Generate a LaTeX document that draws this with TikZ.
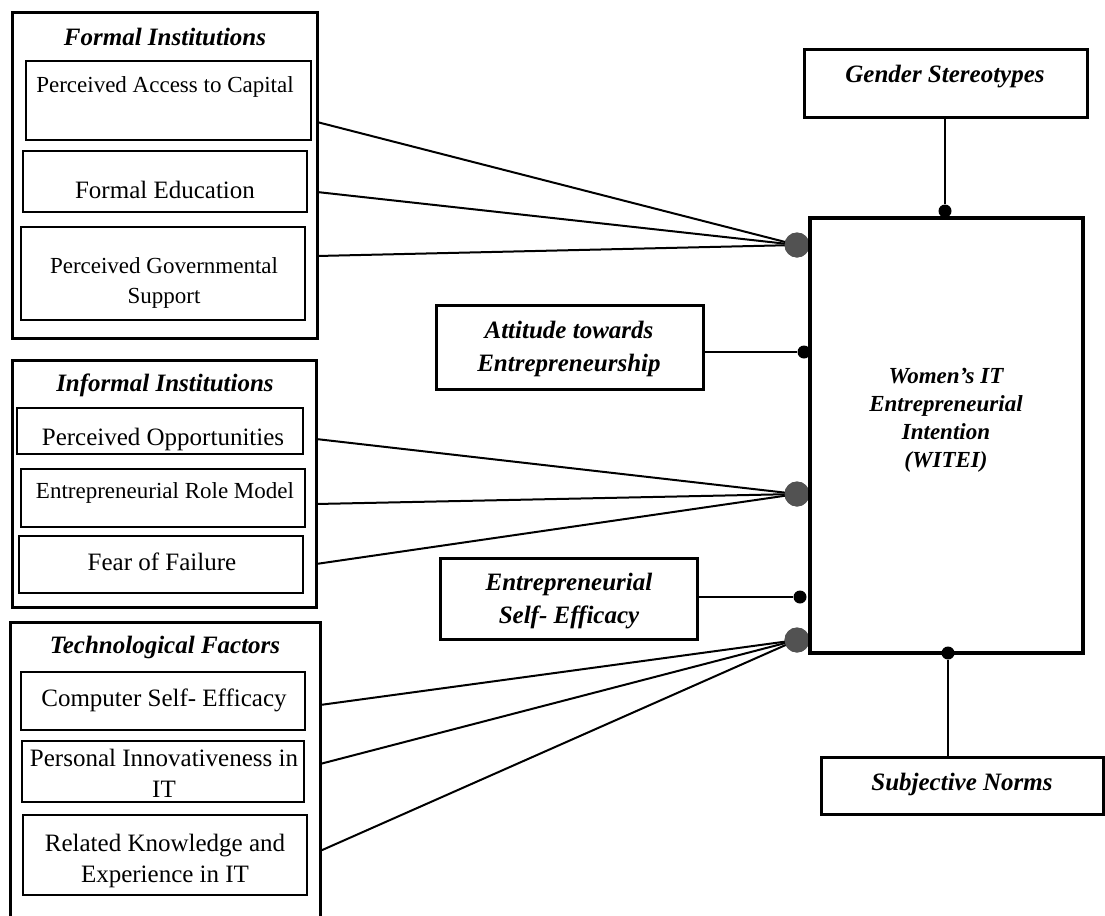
\documentclass[tikz,border=0pt]{standalone}
\usepackage{fontspec}
\setmainfont{Liberation Serif}
\begin{document}
\begin{tikzpicture}[x=0.5pt,y=-0.5pt,
  txt/.style={font=\fontsize{12.5}{15.5}\selectfont, align=center, inner sep=0pt},
  txts/.style={font=\fontsize{11.5}{15}\selectfont, align=center, inner sep=0pt},
  head/.style={font=\fontsize{12.5}{16.5}\selectfont\bfseries\itshape, align=center, inner sep=0pt},
  heads/.style={font=\fontsize{11.5}{14}\selectfont\bfseries\itshape, align=center, inner sep=0pt},
  groupbox/.style={draw, line width=1.5pt, inner sep=0pt},
  subbox/.style={draw, line width=1.2pt, inner sep=0pt},
  factorbox/.style={draw, line width=1.5pt, inner sep=0pt},
  mainbox/.style={draw, line width=2pt, inner sep=0pt},
  link/.style={line width=1pt},
  hub/.style={circle, fill=black!68, inner sep=0pt, minimum size=12.5pt},
  dot/.style={circle, fill=black, inner sep=0pt, minimum size=6.5pt}]
\useasboundingbox (0,0) rectangle (1105,916);

% ---- Formal institutions ----
\node[groupbox, minimum width=152.5pt, minimum height=163pt] (formal) at (164.5,175) {};
\node[head] (formalT) at (165,37) {Formal Institutions};
\node[subbox, minimum width=142.5pt, minimum height=39.5pt] (fa) at (168.5,100.5) {};
\node[txts] at (165,87) {Perceived Access to Capital};
\node[subbox, minimum width=142pt, minimum height=30.5pt] (fe) at (165,181.5) {};
\node[txt] at (165,190) {Formal Education};
\node[subbox, minimum width=142pt, minimum height=46.5pt] (fg) at (163,273.5) {};
\node[txts] at (164,283) {Perceived Governmental\\Support};

% ---- Informal institutions ----
\node[groupbox, minimum width=152pt, minimum height=123.5pt] (informal) at (164,483.5) {};
\node[head] (informalT) at (165,385) {Informal Institutions};
\node[subbox, minimum width=143pt, minimum height=23pt] (io) at (160,431) {};
\node[txt] at (163,439) {Perceived Opportunities};
\node[subbox, minimum width=142pt, minimum height=29pt] (ir) at (163,498) {};
\node[txts] at (165,493) {Entrepreneurial Role Model};
\node[subbox, minimum width=142pt, minimum height=28.5pt] (iff) at (161,564.5) {};
\node[txt] at (162,562) {Fear of Failure};

% ---- Technological factors ----
\node[groupbox, minimum width=155pt, minimum height=154pt] (tech) at (165,776) {};
\node[head] (techT) at (165,647) {Technological Factors};
\node[subbox, minimum width=142pt, minimum height=29pt] (tc) at (163,701) {};
\node[txt] at (164,700) {Computer Self- Efficacy};
\node[subbox, minimum width=141pt, minimum height=30.5pt] (tp) at (163,771.5) {};
\node[txt] at (164,773) {Personal Innovativeness in\\IT};
\node[subbox, minimum width=142pt, minimum height=40pt] (tr) at (165,855) {};
\node[txt] at (165,861) {Related Knowledge and\\Experience in IT};

% ---- Right-hand factors ----
\node[factorbox, minimum width=141.5pt, minimum height=34pt] (gs) at (945.5,83) {};
\node[head] at (945,77) {Gender Stereotypes};
\node[factorbox, minimum width=133.5pt, minimum height=42pt] (att) at (569.5,347) {};
\node[head] at (569,349) {Attitude towards\\Entrepreneurship};
\node[factorbox, minimum width=128.5pt, minimum height=40.5pt] (ese) at (568.5,598.5) {};
\node[head] at (569,601) {Entrepreneurial\\Self- Efficacy};
\node[factorbox, minimum width=141pt, minimum height=28.5pt] (sn) at (962,785.5) {};
\node[head] at (962,784) {Subjective Norms};

% ---- Hubs where the groups join the intention box ----
\coordinate (f1) at (317,122);
\coordinate (f2) at (317,192);
\coordinate (f3) at (317,256);
\coordinate (i1) at (316,439);
\coordinate (i2) at (316,504);
\coordinate (i3) at (316,564);
\coordinate (t1) at (320,705);
\coordinate (t2) at (320,764);
\coordinate (t3) at (320,851);
\node[hub] (m1) at (797,245) {};
\node[hub] (m2) at (797,494) {};
\node[hub] (m3) at (797,640) {};

\draw[link] (f1) -- (m1.center);
\draw[link] (f2) -- (m1.center);
\draw[link] (f3) -- (m1.center);
\draw[link] (i1) -- (m2.center);
\draw[link] (i2) -- (m2.center);
\draw[link] (i3) -- (m2.center);
\draw[link] (t1) -- (m3.center);
\draw[link] (t2) -- (m3.center);
\draw[link] (t3) -- (m3.center);
\node[hub] at (m1) {};
\node[hub] at (m2) {};
\node[hub] at (m3) {};

% ---- Intention box ----
\node[mainbox, minimum width=136.5pt, minimum height=217.5pt] (witei) at (946.5,435.5) {};
\node[heads] at (946,420) {Women’s IT\\Entrepreneurial\\Intention\\(WITEI)};

% ---- Direct links ----
\node[dot] (d1) at (945,211) {};
\node[dot] (d2) at (804,352) {};
\node[dot] (d3) at (800,597) {};
\node[dot] (d4) at (948,653) {};
\draw[link] (d1 |- gs.south) -- (d1);
\draw[link] (att.east |- d2) -- (d2);
\draw[link] (ese.east |- d3) -- (d3);
\draw[link] (d4) -- (d4 |- sn.north);
\end{tikzpicture}
\end{document}
